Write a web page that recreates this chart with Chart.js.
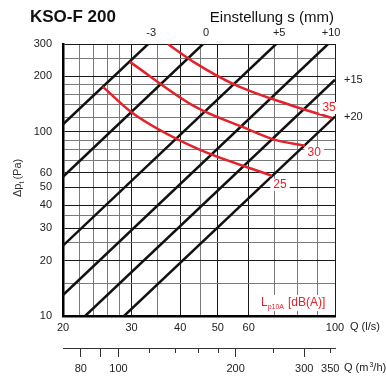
<!DOCTYPE html>
<html>
<head>
<meta charset="utf-8">
<script src="https://cdn.jsdelivr.net/npm/chart.js@4.4.0/dist/chart.umd.min.js"></script>
<style>
html, body { margin: 0; padding: 0; background: #fff; }
#wrap { width: 386px; height: 383px; }
</style>
</head>
<body>
<div id="wrap"><canvas id="chart" width="386" height="383"></canvas></div>
<script>
// axes: Q in l/s (bottom), Q in m3/h (second bottom), pressure drop in Pa (left)
const xGrid = [20, 22, 24, 26, 28, 30, 35, 40, 45, 50, 60, 70, 80, 90, 100];
const xLabels = [20, 30, 40, 50, 60, 100];
const yGrid = [10, 15, 20, 25, 30, 35, 40, 50, 60, 70, 80, 90, 100, 120, 140, 160, 180, 200, 250, 300];
const yLabels = [10, 20, 30, 40, 50, 60, 100, 200, 300];
const m3hTicks = [80, 90, 100, 120, 140, 160, 180, 200, 250, 300, 350];
const m3hLabels = [80, 100, 200, 300, 350];
const m3hLong = [80, 90, 100, 200, 300];

// damper settings s (mm): end points of each line
const settings = ["-3", "0", "+5", "+10", "+15", "+20"];
const settingQ = [[20, 33.1], [20, 45.8], [20, 70.6], [20, 96], [22.8, 100], [28.7, 100]];
const settingDp = [[110, 300], [57, 300], [24.1, 300], [13, 300], [10, 192], [10, 121]];

// sound level curves Lp10A
const soundLevels = ["25", "30", "35"];
const soundQ = [[25.3, 30.1, 43.7, 68.9], [29.7, 43.7, 58.7, 70.2, 83.8], [37.2, 43.7, 55.4, 76.7, 98.3]];
const soundDp = [[176, 127, 82, 57.7], [240, 137, 105, 90.5, 84], [300, 237, 180, 140, 119]];

const FONT = "'Liberation Sans', Arial, Helvetica, sans-serif";
const RED = "#e4222b";

function gridColor(labels) {
    return ctx => labels.includes(ctx.tick.value) ? "#1a1a1a" : "#7a7a7a";
}

const datasets = [];
soundLevels.forEach((lvl, i) => {
    datasets.push({
        label: lvl,
        data: soundQ[i].map((q, j) => ({ x: q, y: soundDp[i][j] })),
        borderColor: RED,
        borderWidth: 2.5,
        pointRadius: 0,
        tension: 0.4,
        cubicInterpolationMode: "monotone",
        order: 0
    });
});
settings.forEach((s, i) => {
    datasets.push({
        label: s,
        data: settingQ[i].map((q, j) => ({ x: q, y: settingDp[i][j] })),
        borderColor: "#111",
        borderWidth: 2.5,
        pointRadius: 0,
        tension: 0,
        order: 1
    });
});

const textPlugin = {
    id: "texts",
    afterDraw(chart) {
        const ctx = chart.ctx;
        const xs = chart.scales.x, ys = chart.scales.y, x2 = chart.scales.x2;
        const area = chart.chartArea;
        ctx.save();

        // short ticks of the m3/h axis
        ctx.strokeStyle = "#333";
        ctx.lineWidth = 1;
        m3hTicks.filter(v => !m3hLong.includes(v)).forEach(v => {
            const px = Math.round(x2.getPixelForValue(v)) + 0.5;
            ctx.beginPath();
            ctx.moveTo(px, x2.top);
            ctx.lineTo(px, x2.top + 5);
            ctx.stroke();
        });

        ctx.fillStyle = "#111";
        ctx.textBaseline = "alphabetic";
        ctx.textAlign = "left";
        ctx.font = "bold 17px " + FONT;
        ctx.fillText("KSO-F 200", 30, 22);
        ctx.font = "15px " + FONT;
        ctx.textAlign = "right";
        ctx.fillText("Einstellung s (mm)", area.right - 1, 22);

        // setting labels
        ctx.font = "11px " + FONT;
        ctx.fillStyle = "#222";
        ctx.textBaseline = "middle";
        settings.forEach((s, i) => {
            const q = settingQ[i][1], dp = settingDp[i][1];
            if (dp >= ys.max) {
                ctx.textAlign = "center";
                ctx.fillText(s, xs.getPixelForValue(q) + 3, area.top - 11);
            } else {
                ctx.textAlign = "left";
                ctx.fillText(s, area.right + 9, ys.getPixelForValue(dp));
            }
        });

        // axis unit labels
        ctx.textAlign = "left";
        ctx.font = "11px " + FONT;
        ctx.fillText("Q (l/s)", area.right + 15, xs.top + 11);
        const qy = x2.top + 20;
        let px = area.right + 9;
        ctx.fillText("Q (m", px, qy);
        px += ctx.measureText("Q (m").width + 1;
        ctx.font = "7px " + FONT;
        ctx.fillText("3", px, qy - 3);
        px += ctx.measureText("3").width;
        ctx.font = "11px " + FONT;
        ctx.fillText("/h)", px, qy);

        // y axis title
        ctx.save();
        ctx.translate(21, (area.top + area.bottom) / 2 + 17);
        ctx.rotate(-Math.PI / 2);
        ctx.textAlign = "left";
        ctx.textBaseline = "alphabetic";
        ctx.font = "11px " + FONT;
        ctx.fillStyle = "#333";
        let tx = 0;
        ctx.fillText("\u0394p", tx, 0);
        tx += ctx.measureText("\u0394p").width;
        ctx.font = "7px " + FONT;
        ctx.fillText("t", tx, 3);
        tx += ctx.measureText("t").width + 2;
        ctx.font = "11px " + FONT;
        ctx.fillText("(Pa)", tx, 0);
        ctx.restore();

        // sound level labels with white background
        ctx.font = "12px " + FONT;
        ctx.textBaseline = "middle";
        ctx.textAlign = "center";
        const offs = [[8, 9], [9, 7], [-3, -10]];
        soundLevels.forEach((lvl, i) => {
            const n = soundQ[i].length - 1;
            const cx = xs.getPixelForValue(soundQ[i][n]) + offs[i][0];
            const cy = ys.getPixelForValue(soundDp[i][n]) + offs[i][1];
            const w = ctx.measureText(lvl).width + 6;
            ctx.fillStyle = "#fff";
            ctx.fillRect(cx - w / 2, cy - 6, w, 12);
            ctx.fillStyle = RED;
            ctx.fillText(lvl, cx, cy);
        });

        // Lp10A [dB(A)]
        const lx = area.right - 74, ly = area.bottom - 10;
        ctx.font = "12px " + FONT;
        ctx.textAlign = "left";
        ctx.textBaseline = "alphabetic";
        ctx.fillStyle = "#fff";
        ctx.fillRect(lx - 2, ly - 11, 72, 16);
        ctx.fillStyle = RED;
        let lxx = lx;
        ctx.fillText("L", lxx, ly);
        lxx += ctx.measureText("L").width;
        ctx.font = "7px " + FONT;
        ctx.fillText("p10A", lxx, ly + 3);
        lxx += ctx.measureText("p10A").width + 4;
        ctx.font = "12px " + FONT;
        ctx.fillText("[dB(A)]", lxx, ly);

        ctx.restore();
    }
};

new Chart(document.getElementById("chart"), {
    type: "line",
    data: { datasets },
    options: {
        responsive: false,
        animation: false,
        events: [],
        layout: { padding: { top: 44, right: 51, left: 0, bottom: 0 } },
        plugins: { legend: { display: false }, tooltip: { enabled: false } },
        scales: {
            x: {
                type: "logarithmic",
                position: "bottom",
                weight: 0,
                min: 20,
                max: 100,
                afterBuildTicks: s => { s.ticks = xGrid.map(v => ({ value: v })); },
                afterFit: s => { s.height = 32; },
                ticks: {
                    autoSkip: false, maxRotation: 0, padding: 5, color: "#222",
                    font: { size: 11, family: FONT },
                    callback: v => xLabels.includes(v) ? String(v) : ""
                },
                grid: { drawTicks: false, color: gridColor(xLabels), lineWidth: 1 },
                border: { display: true, color: "#000", width: 2.5 }
            },
            x2: {
                type: "logarithmic",
                position: "bottom",
                weight: 1,
                min: 72,
                max: 360,
                afterBuildTicks: s => { s.ticks = m3hTicks.map(v => ({ value: v })); },
                afterFit: s => { s.height = 35; },
                ticks: {
                    autoSkip: false, maxRotation: 0, padding: 5, color: "#222",
                    font: { size: 11, family: FONT },
                    callback: v => m3hLabels.includes(v) ? String(v) : ""
                },
                grid: {
                    drawOnChartArea: false, drawTicks: true, tickLength: 9, tickWidth: 1,
                    tickColor: ctx => m3hLong.includes(ctx.tick.value) ? "#333" : "rgba(0,0,0,0)"
                },
                border: { display: true, color: "#333", width: 1 }
            },
            y: {
                type: "logarithmic",
                position: "left",
                min: 10,
                max: 300,
                afterBuildTicks: s => { s.ticks = yGrid.map(v => ({ value: v })); },
                afterFit: s => { s.width = 63; },
                ticks: {
                    autoSkip: false, padding: 11, color: "#222",
                    font: { size: 11, family: FONT },
                    callback: v => yLabels.includes(v) ? String(v) : ""
                },
                grid: { drawTicks: false, color: gridColor(yLabels), lineWidth: 1 },
                border: { display: true, color: "#000", width: 2.5 }
            }
        }
    },
    plugins: [textPlugin]
});
</script>
</body>
</html>
